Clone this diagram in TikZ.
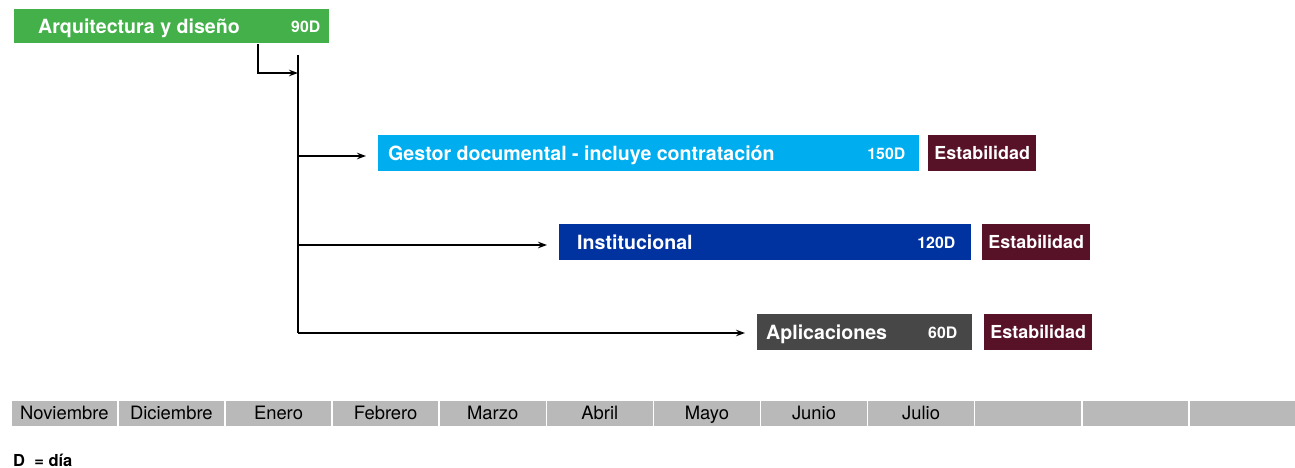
\documentclass[tikz,border=0pt]{standalone}
\usepackage{fontspec}
\setmainfont{TeX Gyre Heros}
\usetikzlibrary{arrows.meta}

\definecolor{arqgreen}{RGB}{67,176,73}
\definecolor{gestcyan}{RGB}{0,174,239}
\definecolor{instblue}{RGB}{0,51,160}
\definecolor{appgray}{RGB}{71,71,71}
\definecolor{estmaroon}{RGB}{88,18,40}
\definecolor{mesgray}{RGB}{185,185,185}

\begin{document}
\begin{tikzpicture}[x=1pt,y=-1pt,
		bar/.style={rectangle,anchor=north west,inner sep=0pt,minimum height=36pt},
		title/.style={anchor=base west,inner sep=0pt,text=white,font=\fontsize{19.6}{22}\selectfont\bfseries},
		dur/.style={anchor=base east,inner sep=0pt,text=white,font=\fontsize{15.8}{18}\selectfont\bfseries},
		estab/.style={bar,fill=estmaroon,minimum width=108pt,text=white,text height=12.8pt,text depth=0pt,
			font=\fontsize{17.9}{20}\selectfont\bfseries},
		mes/.style={rectangle,anchor=north west,inner sep=0pt,fill=mesgray,draw=white,line width=1.5pt,
			minimum width=107.1pt,minimum height=27pt,text height=13.4pt,text depth=0pt,
			font=\fontsize{18.4}{21}\selectfont},
		linea/.style={line width=1.2pt},
		flecha/.style={linea,-{Stealth[length=9pt,width=6.5pt]},shorten >=12pt}]
	\useasboundingbox (0,0) rectangle (1295,468);

	\begin{scope}
		\node[bar,fill=arqgreen,minimum width=315pt,minimum height=34pt] (arq) at (14,9) {};
		\node[title] (arqT) at ([xshift=24pt,yshift=-7pt]arq.west) {Arquitectura y diseño};
		\node[dur] (arqD) at ([xshift=-9pt,yshift=-6pt]arq.east) {90D};

		\node[bar,fill=gestcyan,minimum width=541pt] (gest) at (378,135) {};
		\node[title] (gestT) at ([xshift=10pt,yshift=-7pt]gest.west) {Gestor documental - incluye contratación};
		\node[dur] (gestD) at ([xshift=-14pt,yshift=-6pt]gest.east) {150D};
		\node[estab] (est1) at (928,135) {Estabilidad};

		\node[bar,fill=instblue,minimum width=412pt] (inst) at (559,224) {};
		\node[title] (instT) at ([xshift=18pt,yshift=-7pt]inst.west) {Institucional};
		\node[dur] (instD) at ([xshift=-16pt,yshift=-6pt]inst.east) {120D};
		\node[estab] (est2) at (982,224) {Estabilidad};

		\node[bar,fill=appgray,minimum width=215pt] (apl) at (757,314) {};
		\node[title] (aplT) at ([xshift=9pt,yshift=-7pt]apl.west) {Aplicaciones};
		\node[dur] (aplD) at ([xshift=-15pt,yshift=-6pt]apl.east) {60D};
		\node[estab] (est3) at (984,314) {Estabilidad};
	\end{scope}

	\begin{scope}
		\coordinate (k0) at (258,44);
		\coordinate (top) at (298,55);
		\coordinate (j0) at (298,73);
		\coordinate (j1) at (298,156);
		\coordinate (j2) at (298,245);
		\coordinate (j3) at (298,333);
		\draw[linea] (top) -- (j3);
		\draw[flecha,shorten >=0pt] (k0) |- (j0);
		\draw[flecha] (j1) -- (j1 -| gest.west);
		\draw[flecha] (j2) -- (j2 -| inst.west);
		\draw[flecha] (j3) -- (j3 -| apl.west);
	\end{scope}

	\foreach \m [count=\i from 0] in {Noviembre,Diciembre,Enero,Febrero,Marzo,Abril,Mayo,Junio,Julio,{},{},{}}
		\node[mes] (mes\i) at (10+\i*107.1,399) {\m};

	\node[anchor=base west,inner sep=0pt,font=\fontsize{16.5}{19}\selectfont\bfseries] (nota) at (13,466) {D\ \ = día};
\end{tikzpicture}
\end{document}
